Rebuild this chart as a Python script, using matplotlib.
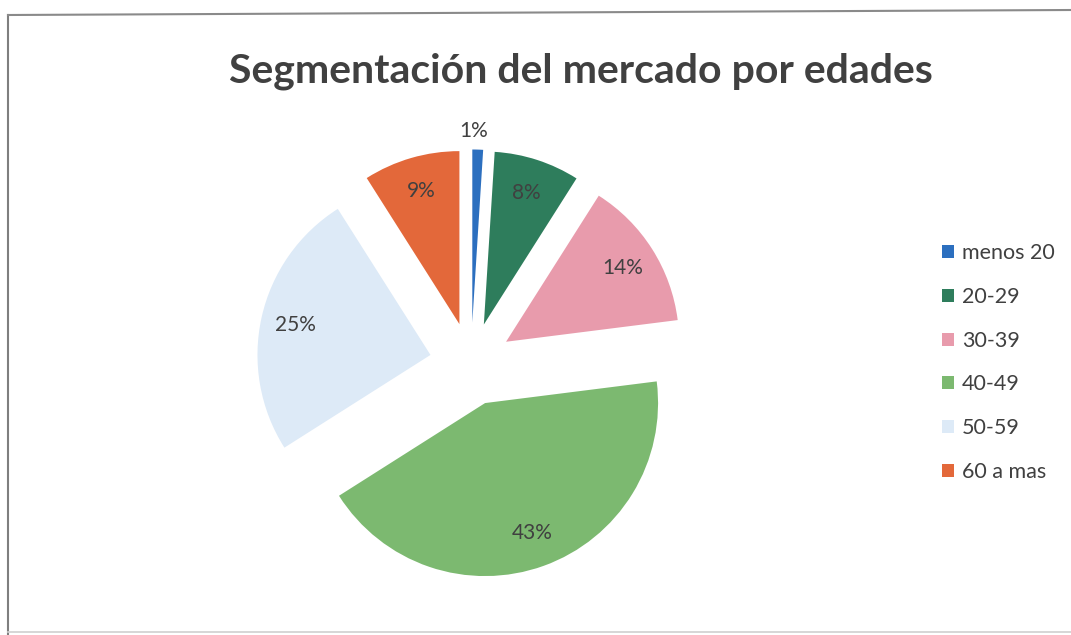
import matplotlib.pyplot as plt

categorias = ["menos 20", "20-29", "30-39", "40-49", "50-59", "60 a mas"]
valores = [1, 8, 14, 43, 25, 9]
colores = ["#2C6FBF", "#2E7D5C", "#E89BAC", "#7CB970", "#DDEAF7", "#E3683A"]

W, H = 1071, 635

fig = plt.figure(figsize=(W / 100, H / 100), dpi=100)
ax = fig.add_axes([0, 0, 1, 1])

radio = 173
wedges, textos, pcts = ax.pie(
    valores,
    colors=colores,
    startangle=90,
    counterclock=False,
    explode=[0.24 * radio] * len(valores),
    radius=radio,
    center=(471, H - 364),
    autopct="%1.0f%%",
    pctdistance=0.8,
    textprops={"family": "Lato", "fontsize": 15, "color": "#404040"},
    wedgeprops={"linewidth": 0},
)
# etiqueta del 1% fuera del sector
x0, y0 = pcts[0].get_position()
pcts[0].set_position((x0 - 3, y0 + 0.31 * radio))

# pie cambia los limites, se ponen despues
ax.set_xlim(0, W)
ax.set_ylim(0, H)
ax.set_aspect("equal")
ax.axis("off")

# marco del grafico
ax.plot([8, 8], [H - 15, 0], color="#7f7f7f", lw=1.5)
ax.plot([8, W], [H - 15, H - 10], color="#8a8a8a", lw=1.5)
ax.plot([8, W], [3, 3], color="#d0d0d0", lw=1.2)

ax.text(581, H - 71, "Segmentación del mercado por edades", ha="center", va="center",
        family="Lato", fontweight="bold", fontsize=29.5, color="#404040")

ax.legend(wedges, categorias, loc="upper left", bbox_to_anchor=(923, H - 224),
          bbox_transform=ax.transData, frameon=False, prop={"family": "Lato", "size": 15.5},
          handlelength=0.55, handleheight=0.55, handletextpad=0.35, labelspacing=1.1,
          labelcolor="#404040")

fig.savefig("out.png", dpi=100)
